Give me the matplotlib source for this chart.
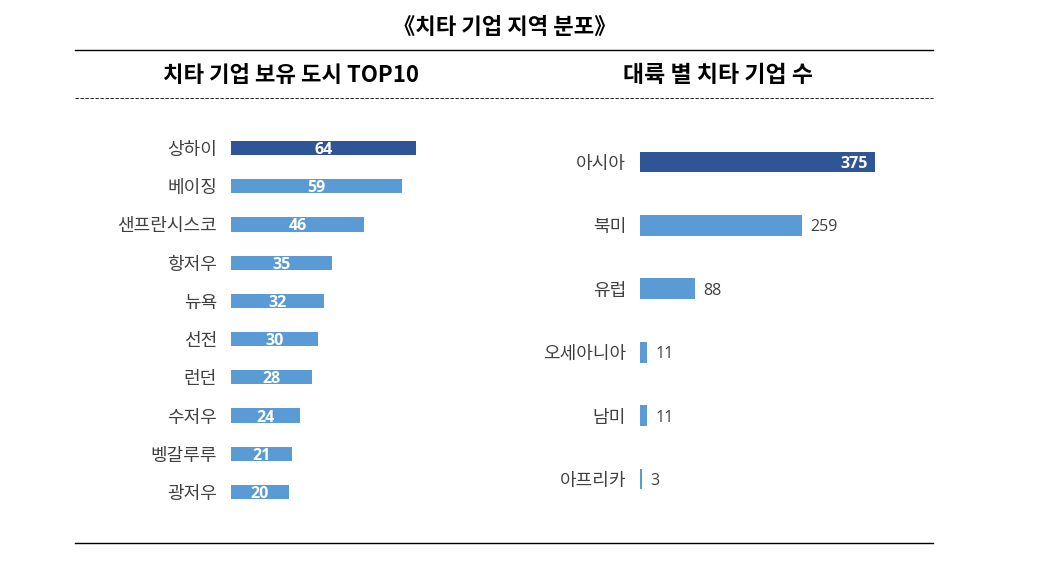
import matplotlib
matplotlib.use("Agg")
import matplotlib.pyplot as plt
from matplotlib.lines import Line2D

plt.rcParams['font.family'] = ['Noto Sans CJK KR', 'DejaVu Sans']

# 데이터
cities = ['상하이', '베이징', '샌프란시스코', '항저우', '뉴욕', '선전', '런던', '수저우', '벵갈루루', '광저우']
city_counts = [64, 59, 46, 35, 32, 30, 28, 24, 21, 20]
continents = ['아시아', '북미', '유럽', '오세아니아', '남미', '아프리카']
continent_counts = [375, 259, 88, 11, 11, 3]

title = '《치타 기업 지역 분포》'
left_title = '치타 기업 보유 도시 TOP10'
right_title = '대륙 별 치타 기업 수'

DARK = '#2F5597'
LIGHT = '#5B9BD5'
TXT = '#404040'
NUM_FONT = ['Open Sans', 'DejaVu Sans']

W, H = 1038, 586
fig = plt.figure(figsize=(W / 100, H / 100), dpi=100)


def px_axes(x0, y0, x1, y1):
    # 픽셀 좌표 (위쪽 기준) -> figure 좌표
    return fig.add_axes([x0 / W, 1 - y1 / H, (x1 - x0) / W, (y1 - y0) / H])


def hline(y, x0=75, x1=933, **kw):
    fig.add_artist(Line2D([x0 / W, x1 / W], [1 - y / H, 1 - y / H],
                          transform=fig.transFigure, **kw))


# 제목과 구분선
fig.text(505 / W, 1 - 27 / H, title, ha='center', va='center',
         fontsize=16, fontweight='bold', color='black')
hline(50, color='black', linewidth=1)
fig.text(291 / W, 1 - 75 / H, left_title, ha='center', va='center',
         fontsize=16, fontweight='bold', color='black')
fig.text(718 / W, 1 - 75 / H, right_title, ha='center', va='center',
         fontsize=16.5, fontweight='bold', color='black')
hline(98, color='black', linewidth=0.6, linestyle=(0, (4, 2)))
hline(543, color='black', linewidth=1)

# 왼쪽: 도시 TOP10
xmax_l = 70
sp_l = (492 - 148) / 9
ax1 = px_axes(231, 148 - sp_l / 2, 231 + 185 * xmax_l / 64, 492 + sp_l / 2)
ypos = list(range(len(cities)))
colors = [DARK] + [LIGHT] * (len(cities) - 1)
bars = ax1.barh(ypos, city_counts, height=0.37, color=colors)
ax1.set_xlim(0, xmax_l)
ax1.set_ylim(len(cities) - 0.5, -0.5)
ax1.set_yticks(ypos)
ax1.set_yticklabels(cities, fontsize=13, color=TXT)
ax1.tick_params(axis='y', length=0, pad=10)
ax1.set_xticks([])
for s in ax1.spines.values():
    s.set_visible(False)
for b, v in zip(bars, city_counts):
    ax1.text(v / 2, b.get_y() + b.get_height() / 2, str(v), ha='center', va='center_baseline',
             color='white', fontsize=11.5, fontweight='bold', family=NUM_FONT)

# 오른쪽: 대륙별
xmax_r = 400
sp_r = (479 - 162) / 5
ax2 = px_axes(640, 162 - sp_r / 2, 640 + 235 * xmax_r / 375, 479 + sp_r / 2)
ypos2 = list(range(len(continents)))
colors2 = [DARK] + [LIGHT] * (len(continents) - 1)
bars2 = ax2.barh(ypos2, continent_counts, height=0.33, color=colors2)
ax2.set_xlim(0, xmax_r)
ax2.set_ylim(len(continents) - 0.5, -0.5)
ax2.set_yticks(ypos2)
ax2.set_yticklabels(continents, fontsize=13, color=TXT)
ax2.tick_params(axis='y', length=0, pad=10)
ax2.set_xticks([])
for s in ax2.spines.values():
    s.set_visible(False)
for i, (b, v) in enumerate(zip(bars2, continent_counts)):
    yc = b.get_y() + b.get_height() / 2
    if i == 0:
        ax2.annotate(str(v), (v, yc), xytext=(-5, 0), textcoords='offset points',
                     ha='right', va='center_baseline', color='white', fontsize=11.5,
                     fontweight='bold', family=NUM_FONT)
    else:
        ax2.annotate(str(v), (v, yc), xytext=(6, 0), textcoords='offset points',
                     ha='left', va='center_baseline', color=TXT, fontsize=11.5,
                     family=NUM_FONT)

fig.savefig('out.png', dpi=100)
